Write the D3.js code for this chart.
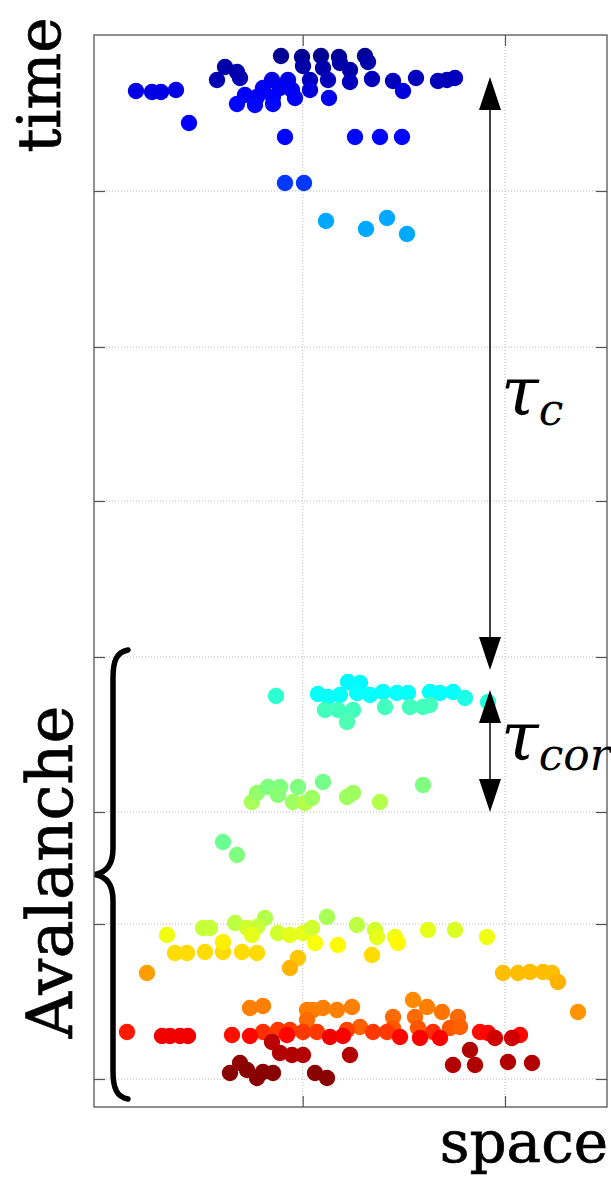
<!DOCTYPE html>
<html><head><meta charset="utf-8">
<script src="https://cdn.jsdelivr.net/npm/d3@7"></script>
<style>html,body{margin:0;padding:0;background:#fff;}svg{display:block;}</style>
</head><body>
<svg id="chart" width="611" height="1178"></svg>
<script>
// ---- data (space units, time units, jet colour level) ----
const xTicks = [208.7, 411];
const yTicks = [28, 183, 295, 450, 606, 760, 916];

const earlyEvents = [
 [187,1051,0.02],[208,1050,0.02],[227,1051,0.02],[245,1050,0.02],[271,1051,0.02],
 [209,1041,0.04],[229,1039,0.04],[246,1044,0.04],[256,1037,0.04],[274,1045,0.04],
 [131,1040,0.04],[143,1035,0.04],[146,1029,0.05],[123,1027,0.05],
 [216,1027,0.06],[234,1027,0.06],[256,1025,0.06],[278,1028,0.06],[299,1026,0.06],
 [322,1029,0.06],[344,1026,0.06],[353,1027,0.06],[361,1029,0.06],
 [309,1016,0.09],[216,1017,0.09],[235,1009,0.11],
 [42,1016,0.1],[58,1015,0.1],[67,1015,0.1],[82,1017,0.1],
 [178,1027,0.1],[194,1027,0.1],[169,1019,0.11],[186,1019,0.11],[198,1017,0.11],
 [151,1012,0.12],[163,1010,0.12],[179,1010,0.12],[201,1009,0.12],
 [143,1003,0.13],[161,1002,0.13],[179,1003,0.13],
 [95,984,0.12],
 [191,970,0.13],[261,970,0.13],[286,970,0.13],[308,970,0.13],
 [191,924,0.18],[210,924,0.18],
 [232,886,0.29],[272,878,0.29],[293,889,0.29],[313,873,0.29]
];

const avalancheTop = [
 [182,411,0.42],
 [224,413,0.38],[234,410,0.38],[246,412,0.38],[254,425,0.37],[266,424,0.37],
 [263,414,0.38],[276,412,0.38],[289,415,0.38],[303,414,0.38],[314,414,0.38],
 [336,415,0.38],[346,414,0.38],[359,415,0.38],[371,409,0.4],[394,405,0.41],
 [231,397,0.44],[244,397,0.44],[259,397,0.44],[253,385,0.45],[291,400,0.44],
 [316,400,0.44],[329,400,0.44],[336,402,0.44]
];

const avalancheMid = [
 [158,305,0.54],[163,314,0.52],[174,320,0.5],[186,320,0.5],[184,312,0.51],
 [204,320,0.5],[199,305,0.53],[211,304,0.55],[218,309,0.53],[229,325,0.49],
 [253,310,0.53],[259,314,0.53],[286,305,0.55],[329,322,0.5],
 [129,265,0.48],[143,252,0.5]
];

const avalancheLow = [
 [73,172,0.61],[109,179,0.57],[116,179,0.57],[141,184,0.56],[153,179,0.58],
 [171,189,0.55],[163,180,0.57],[158,172,0.6],[184,174,0.58],[196,172,0.6],
 [209,174,0.6],[218,179,0.58],[221,164,0.62],[233,190,0.54],[244,162,0.63],
 [263,182,0.56],[281,177,0.58],[283,170,0.6],[301,170,0.61],[304,164,0.63],
 [334,177,0.6],[361,177,0.59],[393,170,0.61],
 [81,154,0.66],[93,154,0.66],[111,155,0.66],[129,155,0.66],[148,155,0.66],
 [163,154,0.66],[129,165,0.64],[278,152,0.66],[204,149,0.68],[196,139,0.7],
 [53,134,0.72],
 [409,134,0.69],[424,134,0.69],[436,135,0.69],[449,135,0.69],[458,134,0.69],
 [464,125,0.7],[484,95,0.73],
 [156,99,0.75],[169,101,0.75],[213,97,0.75],[219,97,0.75],[229,99,0.75],
 [243,97,0.75],[258,100,0.75],[319,107,0.74],[333,100,0.75],[348,95,0.76],
 [213,87,0.77],[299,90,0.77],[321,90,0.77],[364,90,0.77],
 [266,80,0.78],[299,79,0.79],[324,79,0.79],[356,79,0.79],[366,80,0.78],
 [169,75,0.83],[184,77,0.82],[196,77,0.82],[209,75,0.82],[223,75,0.82],
 [253,77,0.81],[279,75,0.82],[293,75,0.82],[339,75,0.83],
 [33,75,0.85],[68,71,0.89],[76,71,0.89],[86,71,0.89],[94,71,0.89],
 [138,72,0.86],[156,71,0.87],[193,72,0.87],[236,70,0.89],[249,71,0.88],
 [306,70,0.87],[326,69,0.88],[346,69,0.88],[386,75,0.86],[394,74,0.87],
 [426,72,0.87],[401,69,0.92],[418,69,0.92],
 [178,65,0.94],[186,54,0.95],[198,52,0.95],[209,52,0.95],[256,52,0.95],
 [359,42,0.95],[376,57,0.95],[381,42,0.95],[414,45,0.95],[438,44,0.95],
 [136,34,0.99],[146,44,0.98],[153,37,0.99],[163,29,0.99],[169,35,0.99],
 [179,34,0.99],[221,34,0.99],[233,29,0.99]
];

// annotation spans (time units)
const tauC = [1030, 437];
const tauCor = [417, 295];
const arrowX = 396;
const braceSpan = [457, 8];

// ---- drawing ----
const svg = d3.select("#chart");
const x = d3.scaleLinear().domain([0, 513]).range([94, 607]);
const y = d3.scaleLinear().domain([0, 1072]).range([1107, 35]);
const jet = d3.scaleLinear()
  .domain([0, 0.125, 0.375, 0.625, 0.875, 1])
  .range(["#00007f", "#0000ff", "#00ffff", "#ffff00", "#ff0000", "#7f0000"]);

const L = 94, R = 607, T = 35, B = 1107;

// grid
const grid = svg.append("g");
grid.selectAll("line.gy").data(yTicks).join("line")
  .attr("x1", L).attr("x2", R).attr("y1", d => y(d)).attr("y2", d => y(d))
  .attr("stroke", "#b8b8b8").attr("stroke-width", 1).attr("stroke-dasharray", "1,2");
grid.selectAll("line.gx").data(xTicks).join("line")
  .attr("y1", T).attr("y2", B).attr("x1", d => x(d)).attr("x2", d => x(d))
  .attr("stroke", "#b8b8b8").attr("stroke-width", 1).attr("stroke-dasharray", "1,2");

// points
const all = [].concat(earlyEvents, avalancheTop, avalancheMid, avalancheLow);
svg.append("g").selectAll("circle").data(all).join("circle")
  .attr("cx", d => x(d[0])).attr("cy", d => y(d[1])).attr("r", 8.2)
  .attr("fill", d => jet(d[2]));

// axes (inward ticks)
function styleAxis(g){ g.select(".domain").remove(); g.selectAll(".tick line").attr("stroke","#555").attr("stroke-width",1.2); g.selectAll("text").remove(); }
svg.append("g").attr("transform", `translate(${L},0)`).call(d3.axisLeft(y).tickValues(yTicks).tickSize(-11).tickFormat("")).call(styleAxis);
svg.append("g").attr("transform", `translate(${R},0)`).call(d3.axisRight(y).tickValues(yTicks).tickSize(-11).tickFormat("")).call(styleAxis);
svg.append("g").attr("transform", `translate(0,${B})`).call(d3.axisBottom(x).tickValues(xTicks).tickSize(-11).tickFormat("")).call(styleAxis);
svg.append("g").attr("transform", `translate(0,${T})`).call(d3.axisTop(x).tickValues(xTicks).tickSize(-11).tickFormat("")).call(styleAxis);

svg.append("rect").attr("x", L).attr("y", T).attr("width", R - L).attr("height", B - T)
  .attr("fill", "none").attr("stroke", "#555").attr("stroke-width", 1.3);

// arrows
function dArrow(span){
  const ax = x(arrowX), top = y(span[0]), bot = y(span[1]), hl = 33, hw = 11;
  const g = svg.append("g");
  g.append("line").attr("x1", ax).attr("x2", ax).attr("y1", top + hl - 1).attr("y2", bot - hl + 1)
    .attr("stroke", "#000").attr("stroke-width", 1.5);
  g.append("path").attr("d", `M${ax},${top} L${ax-hw},${top+hl} L${ax+hw},${top+hl} Z`).attr("fill", "#000");
  g.append("path").attr("d", `M${ax},${bot} L${ax-hw},${bot-hl} L${ax+hw},${bot-hl} Z`).attr("fill", "#000");
}
dArrow(tauC);
dArrow(tauCor);

// math labels
function tauLabel(px, baseY, sub){
  const t = svg.append("text").attr("x", px).attr("y", baseY)
    .attr("font-family", "DejaVu Serif").attr("font-style", "italic").attr("fill", "#000");
  t.append("tspan").attr("font-size", 68).text("τ");
  t.append("tspan").attr("font-size", 44).attr("dy", 10).text(sub);
}
tauLabel(501, 415, "c");
tauLabel(501, 760, "cor");

// brace
const bt = y(braceSpan[0]), bb = y(braceSpan[1]), bm = (bt + bb) / 2;
svg.append("path")
  .attr("d", `M128,${bt} C117,${bt+2} 113,${bt+10} 113,${bt+28} L113,${bm-26} C113,${bm-10} 106,${bm-2} 95,${bm} C106,${bm+2} 113,${bm+10} 113,${bm+26} L113,${bb-28} C113,${bb-10} 117,${bb-2} 128,${bb}`)
  .attr("fill", "none").attr("stroke", "#000").attr("stroke-width", 5.5).attr("stroke-linecap", "round");

// axis titles
const titleStyle = t => t.attr("font-family", "DejaVu Serif").attr("fill", "#000")
  .attr("stroke", "#000").attr("stroke-width", 0.7);
svg.append("text").attr("transform", "translate(60,85) rotate(-90)").attr("text-anchor", "middle")
  .attr("font-size", 60).call(titleStyle).text("time");
svg.append("text").attr("transform", "translate(72,872) rotate(-90)").attr("text-anchor", "middle")
  .attr("font-size", 64).call(titleStyle).text("Avalanche");
svg.append("text").attr("x", 608).attr("y", 1162).attr("text-anchor", "end")
  .attr("font-size", 58).call(titleStyle).text("space");
</script>
</body></html>
